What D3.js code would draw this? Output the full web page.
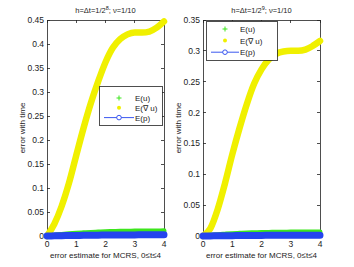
<!DOCTYPE html>
<html><head><meta charset="utf-8">
<script src="https://cdn.jsdelivr.net/npm/d3@7"></script>
<style>body{margin:0;background:#fff}svg{display:block}text{font-family:"Liberation Sans",Arial,sans-serif;fill:#222}</style>
</head><body><svg id="c" width="354" height="267"></svg>
<script>
const tVals = [0,0.25,0.5,0.75,1,1.25,1.5,1.75,2,2.25,2.5,2.75,3,3.25,3.5,3.75,4];
// left panel (h = 1/2^8)
const gradL = [0,0.025,0.062,0.11,0.168,0.225,0.277,0.322,0.362,0.392,0.41,0.42,0.424,0.424,0.426,0.434,0.447];
const uL    = [0,0.0018,0.0032,0.0045,0.0056,0.0066,0.0075,0.0082,0.0088,0.0093,0.0097,0.01,0.0102,0.0104,0.0105,0.0106,0.0107];
const pL    = [0,0.0004,0.0007,0.0010,0.0012,0.0014,0.0016,0.0018,0.0019,0.0020,0.0021,0.0022,0.0023,0.0024,0.0025,0.0026,0.0027];
// right panel (h = 1/2^9)
const gradR = [0,0.012,0.043,0.085,0.132,0.175,0.214,0.247,0.27,0.286,0.295,0.299,0.3,0.3,0.302,0.308,0.316];
const uR    = [0,0.0012,0.0022,0.003,0.0037,0.0043,0.0048,0.0052,0.0055,0.0058,0.006,0.0062,0.0063,0.0064,0.0065,0.0065,0.0066];
const pR    = [0,0.0002,0.0004,0.0005,0.0006,0.0007,0.0008,0.0009,0.001,0.0011,0.0011,0.0012,0.0012,0.0013,0.0013,0.0014,0.0014];
const xTicks = [0,1,2,3,4];
const yTicksL = [0,0.05,0.1,0.15,0.2,0.25,0.3,0.35,0.4,0.45];
const yTicksR = [0,0.05,0.1,0.15,0.2,0.25,0.3,0.35];
const legendLabels = ["E(u)","E(\u2207 u)","E(p)"];
const titleParts = [["h=\u0394t=1/2","8","; \u03bd=1/10"],["h=\u0394t=1/2","9","; \u03bd=1/10"]];
const xLabel = "error estimate for MCRS, 0\u2264t\u22644";
const yLabel = "error with time";

const colY = "#f0f000", colG = "#3de51c", colB = "#2444ee";
const svg = d3.select("#c");

function panel(cfg){
  const x = d3.scaleLinear().domain([0,4]).range([cfg.x0,cfg.x1]);
  const y = d3.scaleLinear().domain([0,cfg.ymax]).range([cfg.y1,cfg.y0]);
  const g = svg.append("g");
  const tl = 3;
  const ax = g.append("g").attr("stroke","#222").attr("stroke-width",0.8).attr("shape-rendering","crispEdges");
  xTicks.forEach(t=>{
    ax.append("line").attr("x1",x(t)).attr("x2",x(t)).attr("y1",cfg.y1).attr("y2",cfg.y1-tl);
    ax.append("line").attr("x1",x(t)).attr("x2",x(t)).attr("y1",cfg.y0).attr("y2",cfg.y0+tl);
  });
  cfg.yTicks.forEach(v=>{
    ax.append("line").attr("x1",cfg.x0).attr("x2",cfg.x0+tl).attr("y1",y(v)).attr("y2",y(v));
    ax.append("line").attr("x1",cfg.x1).attr("x2",cfg.x1-tl).attr("y1",y(v)).attr("y2",y(v));
  });
  ax.append("rect").attr("x",cfg.x0).attr("y",cfg.y0).attr("width",cfg.x1-cfg.x0).attr("height",cfg.y1-cfg.y0).attr("fill","none");
  xTicks.forEach(t=>g.append("text").attr("x",x(t)).attr("y",cfg.y1+11).attr("text-anchor","middle").attr("font-size",8.5).text(t));
  cfg.yTicks.forEach(v=>g.append("text").attr("x",cfg.x0-3).attr("y",y(v)+3).attr("text-anchor","end").attr("font-size",8.5).text(d3.format("~g")(v)));
  g.append("text").attr("x",(cfg.x0+cfg.x1)/2).attr("y",cfg.y1+22).attr("text-anchor","middle").attr("font-size",8).text(xLabel);
  g.append("text").attr("transform",`translate(${cfg.ylx},${(cfg.y0+cfg.y1)/2}) rotate(-90)`).attr("text-anchor","middle").attr("font-size",8).text(yLabel);
  const tt = g.append("text").attr("x",(cfg.x0+cfg.x1)/2).attr("y",cfg.y0-7).attr("text-anchor","middle").attr("font-size",7.5);
  tt.append("tspan").text(cfg.title[0]);
  tt.append("tspan").attr("dy",-3).attr("font-size",5.5).text(cfg.title[1]);
  tt.append("tspan").attr("dy",3).text(cfg.title[2]);
  const line = d3.line().x((d,i)=>x(tVals[i])).y(d=>y(d)).curve(d3.curveMonotoneX);
  g.append("path").attr("d",line(cfg.grad)).attr("fill","none").attr("stroke",colY).attr("stroke-width",6.5).attr("stroke-linecap","round");
  g.append("path").attr("d",line(cfg.u)).attr("fill","none").attr("stroke",colG).attr("stroke-width",5).attr("stroke-linecap","round");
  g.append("path").attr("d",line(cfg.p)).attr("fill","none").attr("stroke",colB).attr("stroke-width",7).attr("stroke-linecap","round");
  const L = cfg.leg;
  const lg = g.append("g");
  lg.append("rect").attr("x",L.x).attr("y",L.y).attr("width",L.w).attr("height",L.h).attr("fill","#fff").attr("stroke","#222").attr("stroke-width",0.8).attr("shape-rendering","crispEdges");
  legendLabels.forEach((lab,i)=>{
    const yy = L.y + L.oy + i*L.dy;
    const mx = L.x + L.mx;
    if(i===0){
      lg.append("line").attr("x1",mx-2.5).attr("x2",mx+2.5).attr("y1",yy).attr("y2",yy).attr("stroke",colG).attr("stroke-width",1);
      lg.append("line").attr("x1",mx).attr("x2",mx).attr("y1",yy-2.5).attr("y2",yy+2.5).attr("stroke",colG).attr("stroke-width",1);
    } else if(i===1){
      lg.append("circle").attr("cx",mx).attr("cy",yy).attr("r",2).attr("fill",colY);
    } else {
      lg.append("line").attr("x1",L.x+5).attr("x2",L.x+L.mx*2-5).attr("y1",yy).attr("y2",yy).attr("stroke",colB).attr("stroke-width",0.9);
      lg.append("circle").attr("cx",mx).attr("cy",yy).attr("r",2.3).attr("fill","#fff").attr("stroke",colB).attr("stroke-width",0.9);
    }
    lg.append("text").attr("x",L.x+L.tx).attr("y",yy+3).attr("font-size",8).text(lab);
  });
}

panel({x0:47,x1:164,y0:20,y1:236,ymax:0.45,yTicks:yTicksL,grad:gradL,u:uL,p:pL,ylx:25,title:titleParts[0],
  leg:{x:99,y:86,w:63,h:39,mx:20,tx:36,oy:12,dy:9.8}});
panel({x0:203,x1:320,y0:20,y1:236,ymax:0.35,yTicks:yTicksR,grad:gradR,u:uR,p:pR,ylx:181,title:titleParts[1],
  leg:{x:206,y:21,w:71,h:39,mx:19,tx:34,oy:8,dy:11.6}});
</script></body></html>
